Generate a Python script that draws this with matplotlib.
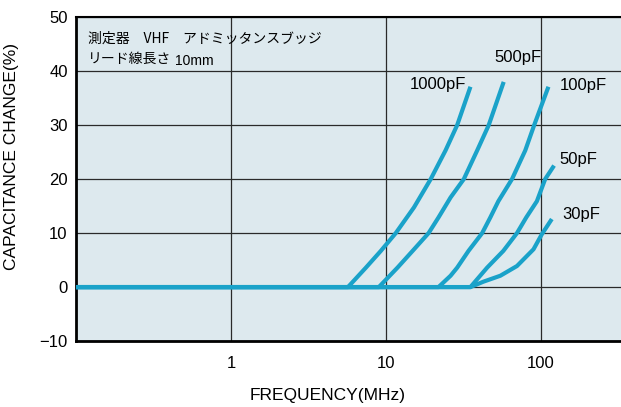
import numpy as np
import matplotlib.pyplot as plt
from matplotlib.ticker import FixedLocator, NullLocator

plt.rcParams['font.family'] = ['Liberation Sans', 'Noto Sans CJK JP', 'DejaVu Sans']

# readings (frequency in MHz, capacitance change in %)
f_1000 = [0.1, 5.70, 7.44, 9.29, 11.6, 15.2, 19.5, 24.3, 28.9, 35.2]
c_1000 = [0, 0, 3.6, 6.7, 10, 14.75, 20, 25.3, 30, 37.1]

f_500 = [0.1, 9.02, 11.9, 14.9, 18.9, 21.9, 26.2, 31.9, 38.9, 46.2, 57.7]
c_500 = [0, 0, 3.6, 6.7, 10, 12.9, 16.6, 20, 25.3, 30, 38.0]

f_100 = [0.1, 21.9, 26.2, 28.9, 34.2, 41.9, 47.3, 53.3, 65.3, 79.5, 90.8, 112.2]
c_100 = [0, 0, 2.1, 3.6, 6.7, 10, 12.9, 15.9, 20, 25.3, 30, 37.1]

f_50 = [0.1, 35.2, 45.1, 57.4, 70.3, 80.7, 94.5, 106.9, 122]
c_50 = [0, 0, 3.6, 6.7, 10, 12.9, 15.9, 20, 22.5]

f_30 = [0.1, 35.2, 42.7, 54.9, 70.3, 89.9, 101.8, 118]
c_30 = [0, 0, 1.0, 2.1, 3.9, 7.0, 9.8, 12.6]

labels = ['1000pF', '500pF', '100pF', '50pF', '30pF']
label_pos = [(21.6, 37.6), (71, 42.6), (189, 37.4), (176, 23.7), (184, 13.5)]

line_col = '#1aa2c9'

fig = plt.figure(figsize=(6.21, 4.07), dpi=100)
ax = fig.add_axes([0.1224, 0.162, 0.8776, 0.796])
ax.set_facecolor('#dde9ee')

for f, c in [(f_1000, c_1000), (f_500, c_500), (f_100, c_100), (f_50, c_50), (f_30, c_30)]:
    ax.plot(f, c, color=line_col, lw=3.0, solid_capstyle='butt',
            solid_joinstyle='round', zorder=3)

for lab, (x, y) in zip(labels, label_pos):
    ax.text(x, y, lab, ha='center', va='center', fontsize=12, zorder=4)

ax.set_xscale('log')
ax.set_xlim(0.1, 330)
ax.set_ylim(-10, 50)
ax.xaxis.set_major_locator(FixedLocator([1, 10, 100]))
ax.xaxis.set_minor_locator(NullLocator())
ax.set_xticklabels(['1', '10', '100'])
ax.set_yticks(range(-10, 51, 10))
ax.tick_params(length=0, labelsize=12, pad=6)
ax.tick_params(axis='x', pad=11)
ax.grid(True, color='#2a2a2a', lw=0.9)
ax.set_axisbelow(True)

for s in ['left', 'bottom']:
    ax.spines[s].set_linewidth(2)
ax.spines['top'].set_linewidth(1.5)
ax.spines['right'].set_visible(False)

ax.set_xlabel('FREQUENCY(MHz)', fontsize=12.5, labelpad=11)
ax.xaxis.set_label_coords(0.462, -0.145)
ax.set_ylabel('CAPACITANCE CHANGE(%)', fontsize=12.5)
ax.yaxis.set_label_coords(-0.105, 0.571)

ax.text(0.022, 0.955, '測定器　VHF　アドミッタンスブッジ', transform=ax.transAxes,
        fontsize=10, va='top', family=['Noto Sans CJK JP', 'DejaVu Sans'])
ax.text(0.022, 0.893, 'リード線長さ', transform=ax.transAxes,
        fontsize=10, va='top', family=['Noto Sans CJK JP', 'DejaVu Sans'])
ax.text(0.182, 0.885, '10mm', transform=ax.transAxes, fontsize=10, va='top')

fig.savefig('out.png', dpi=100)
